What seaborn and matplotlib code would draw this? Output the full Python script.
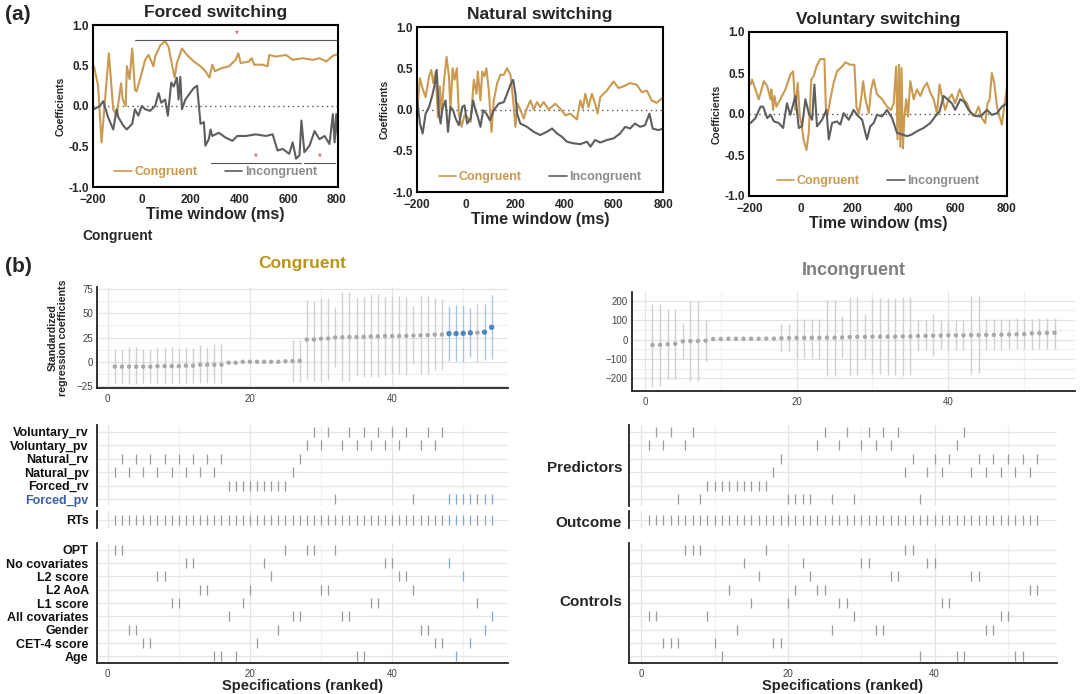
import matplotlib
matplotlib.use('Agg')
import matplotlib.pyplot as plt
from matplotlib.lines import Line2D
import numpy as np
import pandas as pd
import seaborn as sns

sns.set_theme(style='white')
plt.rcParams['font.family'] = ['Liberation Sans', 'DejaVu Sans']

ORANGE = '#C99A50'
DARK = '#5E5E5E'
GOLD = '#BA9512'
PT_GRAY = '#A8A8A8'
CI_GRAY = '#D0D0D0'
BLUE = '#4A86C0'
BLUE_CI = '#A9C6E0'
TICK_GRAY = '#9A9A9A'
TICK_BLUE = '#7FA9D2'

# ---------------- panel (a) data: time (ms) / coefficient ----------------
forced_cong_t = [-196, -179, -165, -150, -135, -117, -103, -85, -78, -66, -61, -50, -39, -28, -21, 0, 14, 28,
                 48, 55, 76, 96, 110, 124, 135, 144, 165, 186, 213, 241, 261, 278, 289, 300, 330, 358, 385,
                 396, 406, 440, 451, 461, 495, 516, 523, 550, 592, 619, 660, 702, 729, 757, 784, 805]
forced_cong_v = [0.49, 0.25, -0.45, 0.10, 0.65, -0.04, -0.12, 0.28, 0.08, 0.0, 0.49, 0.33, 0.71, 0.20, 0.18,
                 0.41, 0.57, 0.63, 0.49, 0.61, 0.75, 0.80, 0.73, 0.51, 0.35, 0.53, 0.71, 0.63, 0.55, 0.49,
                 0.43, 0.35, 0.51, 0.43, 0.47, 0.49, 0.57, 0.65, 0.53, 0.55, 0.59, 0.51, 0.51, 0.49, 0.63,
                 0.61, 0.63, 0.57, 0.59, 0.57, 0.59, 0.55, 0.62, 0.64]
forced_incong_t = [-196, -172, -158, -138, -117, -103, -96, -76, -62, -39, -28, -14, 0, 14, 34, 55, 69, 80, 96,
                   107, 121, 131, 144, 151, 158, 165, 179, 193, 213, 227, 241, 255, 261, 275, 282, 289, 316,
                   344, 372, 392, 427, 468, 509, 537, 557, 578, 605, 619, 633, 647, 655, 667, 688, 709, 729,
                   750, 770, 784, 791, 798, 805]
forced_incong_v = [-0.04, 0.0, 0.06, -0.14, -0.29, -0.04, -0.14, -0.24, -0.29, -0.22, -0.04, -0.12, 0.0, -0.04,
                   -0.06, 0.0, 0.16, 0.04, 0.08, -0.12, 0.29, 0.24, 0.35, 0.08, 0.36, -0.04, 0.08, 0.14, 0.22,
                   0.25, -0.22, -0.20, -0.49, -0.41, -0.29, -0.37, -0.33, -0.39, -0.43, -0.37, -0.37, -0.35,
                   -0.37, -0.35, -0.55, -0.53, -0.59, -0.45, -0.65, -0.61, -0.18, -0.57, -0.49, -0.31, -0.41,
                   -0.37, -0.47, -0.10, -0.45, -0.10, -0.41]

natural_cong_t = [-199, -188, -178, -165, -151, -142, -134, -124, -115, -107, -100, -91, -80, -70, -64, -55, -47,
                  -38, -30, -19, -7, 4, 18, 31, 42, 47, 58, 65, 74, 82, 92, 103, 112, 126, 139, 153, 166, 180,
                  191, 200, 209, 220, 234, 245, 261, 274, 288, 301, 315, 335, 362, 382, 403, 423, 450, 464,
                  474, 484, 497, 511, 524, 534, 545, 572, 599, 619, 639, 666, 693, 714, 734, 754, 774, 801]
natural_cong_v = [0.0, 0.38, 0.26, 0.15, 0.40, 0.48, 0.32, 0.46, -0.09, 0.28, -0.05, 0.32, 0.64, 0.40, 0.0, 0.50,
                  0.36, 0.50, -0.05, -0.21, -0.07, -0.09, -0.15, 0.36, 0.19, 0.46, 0.11, 0.46, 0.40, 0.50, 0.23,
                  -0.27, 0.11, 0.32, 0.42, 0.42, 0.50, 0.42, 0.11, -0.21, 0.07, 0.0, -0.11, 0.0, 0.11, 0.0,
                  0.09, 0.03, 0.09, 0.0, 0.07, 0.01, -0.07, -0.05, -0.12, 0.11, 0.01, 0.19, 0.03, 0.19, 0.07,
                  -0.05, 0.15, 0.23, 0.34, 0.26, 0.28, 0.32, 0.30, 0.21, 0.23, 0.11, 0.08, 0.15]
natural_incong_t = [-199, -188, -177, -165, -151, -138, -128, -120, -111, -104, -97, -84, -74, -64, -53, -43, -30,
                    -16, -7, 4, 18, 28, 38, 47, 58, 69, 82, 96, 112, 132, 153, 166, 180, 191, 200, 207, 220, 247,
                    274, 301, 328, 349, 369, 389, 409, 436, 464, 491, 505, 524, 545, 572, 599, 626, 646, 666,
                    686, 707, 727, 745, 758, 781, 801]
natural_incong_v = [0.11, -0.17, -0.29, -0.05, 0.03, 0.17, 0.30, 0.48, -0.05, -0.17, 0.01, 0.11, -0.27, 0.03,
                    -0.01, -0.11, -0.19, 0.03, 0.05, -0.17, -0.11, 0.11, -0.01, -0.09, -0.21, -0.01, -0.05,
                    -0.13, -0.01, 0.07, 0.09, 0.19, 0.30, 0.36, 0.19, -0.05, -0.17, -0.21, -0.27, -0.31, -0.27,
                    -0.23, -0.29, -0.33, -0.39, -0.41, -0.42, -0.39, -0.45, -0.37, -0.40, -0.37, -0.35, -0.29,
                    -0.21, -0.23, -0.17, -0.21, -0.19, -0.05, -0.23, -0.25, -0.23]

voluntary_cong_t = [-197, -191, -178, -165, -145, -132, -119, -116, -109, -104, -96, -81, -61, -42, -31, -22, -13,
                    -5, 1, 10, 21, 30, 40, 49, 60, 75, 91, 97, 104, 114, 127, 140, 160, 173, 192, 208, 216, 225,
                    234, 242, 251, 264, 273, 283, 296, 316, 335, 351, 361, 371, 376, 382, 387, 392, 397, 403,
                    410, 417, 426, 439, 452, 465, 478, 491, 504, 517, 530, 540, 549, 562, 575, 588, 601, 618,
                    634, 647, 662, 679, 692, 705, 718, 727, 735, 744, 753, 764, 774, 783, 792, 803]
voluntary_cong_v = [0.36, 0.42, 0.30, 0.18, 0.40, 0.34, 0.18, 0.30, 0.05, 0.22, 0.09, 0.18, 0.30, 0.48, 0.52,
                    0.05, 0.38, -0.03, -0.11, -0.31, -0.44, -0.23, 0.42, 0.46, 0.58, 0.67, 0.67, 0.05, 0.0,
                    0.18, 0.38, 0.52, 0.58, 0.63, 0.60, 0.60, 0.09, 0.0, 0.18, 0.40, 0.18, 0.01, 0.30, 0.42,
                    0.24, 0.18, 0.09, 0.05, 0.13, 0.58, -0.31, 0.60, -0.40, 0.56, -0.42, -0.03, 0.18, -0.03,
                    0.40, 0.18, 0.30, 0.22, 0.32, 0.38, 0.26, 0.18, 0.01, 0.36, 0.22, 0.05, 0.18, 0.24, 0.13,
                    0.30, 0.18, 0.13, 0.01, -0.01, 0.09, -0.05, -0.11, 0.13, 0.17, 0.50, 0.38, 0.09, -0.03,
                    -0.13, 0.09, 0.32]
voluntary_incong_t = [-197, -178, -158, -148, -132, -119, -106, -87, -70, -55, -42, -22, -9, 4, 17, 30, 43, 52,
                      62, 82, 99, 108, 121, 140, 153, 166, 186, 205, 218, 238, 257, 270, 283, 296, 316, 335, 355,
                      374, 394, 413, 432, 452, 478, 504, 523, 540, 556, 571, 588, 601, 621, 636, 653, 673, 699,
                      725, 744, 764, 783, 803]
voluntary_incong_v = [-0.11, -0.05, 0.09, 0.09, -0.05, -0.01, -0.09, -0.11, -0.17, 0.13, -0.01, 0.22, -0.17,
                      -0.15, 0.18, 0.01, -0.07, 0.36, -0.15, -0.07, 0.05, -0.31, -0.11, -0.09, -0.13, 0.01,
                      -0.07, 0.05, -0.01, -0.07, -0.31, -0.15, -0.11, -0.01, -0.03, 0.05, -0.05, -0.23, -0.25,
                      -0.27, -0.25, -0.21, -0.17, -0.11, -0.03, 0.03, 0.22, 0.18, 0.13, 0.05, 0.18, 0.15, 0.05,
                      -0.02, -0.03, 0.05, -0.01, 0.01, 0.09, 0.13]

# significance bars for forced switching: (start, end, y)
forced_sig_bars = [(-28, 805, 0.82), (282, 653, -0.70), (667, 791, -0.70)]

# ---------------- panel (b) data: specification curves ----------------
spec_rank = list(range(1, 55))
cong_est = [-5, -5, -5, -5, -5, -5, -4.5, -4.5, -4.5, -4.5, -4, -4, -3, -3, -3, -3,
            -1, -1, 0, 0, 0, 0, 0, 0, 0.5, 0.7, 1,
            22.8, 23, 23.8, 24, 25, 25.2, 25.5, 25.5, 25.7, 26, 26.2, 26.5, 26.5, 26.6, 26.7, 27, 27.2,
            27.5, 28, 28, 29, 29, 29.3, 29.8, 30, 30.5, 35.5]
cong_hi = [13, 13, 15, 15, 13, 13, 15, 15, 15, 14, 15, 14, 17, 15, 18, 18,
           0, 0, 1, 1, 1, 1, 1, 1, 1.5, 22, 22,
           64, 63, 66, 66, 56, 72, 72, 67, 67, 70, 70, 67, 68, 68, 67, 57, 68, 68, 66, 65,
           57, 58, 58, 55, 60, 60, 69]
cong_lo = [-22, -22, -23, -23, -22, -22, -22, -22, -22, -22, -22, -22, -22, -22, -22, -22,
           -2, -2, -1, -1, -1, -1, -1, -1, -0.5, -21, -21,
           -18, -20, -20, -19, -5, -20, -20, -15, -16, -16, -16, -14, -13, -13, -14, -1, -13, -13, -8, -8,
           1, 1, 0, 5, 0, 2, 3]
cong_sig = [48, 49, 50, 51, 53, 54]

incong_est = [-28, -27, -24, -22, -9, -8, -7, -6, 3, 3, 4, 4, 4, 4, 4, 5, 5,
              7, 8, 9, 9, 9, 9, 10, 10, 11, 13, 14, 14, 15, 15, 15, 15, 16, 16, 18, 19, 20, 21, 22, 22,
              22, 23, 23, 24, 24, 25, 26, 27, 28, 32, 33, 34, 35]
incong_hi = [185, 185, 160, 155, 85, 200, 200, 100, 8, 8, 9, 9, 9, 9, 9, 10, 10,
             80, 78, 108, 108, 108, 108, 205, 205, 120, 220, 220, 130, 212, 212, 215, 215, 220, 220,
             100, 100, 130, 103, 103, 103, 103, 225, 225, 105, 105, 105, 108, 110, 112, 108, 110, 110, 112]
incong_lo = [-243, -238, -205, -205, -100, -212, -212, -108, -2, -2, -1, -1, -1, -1, -1, 0, 0,
             -63, -63, -93, -93, -93, -100, -188, -188, -95, -185, -185, -100, -178, -178, -185, -185,
             -190, -185, -60, -55, -85, -50, -55, -55, -55, -175, -170, -55, -55, -55, -50, -50, -48,
             -55, -48, -50, -48]
incong_sig = []

predictor_names = ['Voluntary_rv', 'Voluntary_pv', 'Natural_rv', 'Natural_pv', 'Forced_rv', 'Forced_pv']
control_names = ['OPT', 'No covariates', 'L2 score', 'L2 AoA', 'L1 score', 'All covariates',
                 'Gender', 'CET-4 score', 'Age']

cong_predictors = {
    'Voluntary_rv': [29, 31, 34, 36, 38, 40, 42, 45, 47],
    'Voluntary_pv': [28, 30, 33, 35, 37, 39, 41, 44, 46],
    'Natural_rv': [2, 4, 6, 8, 10, 12, 14, 16, 27],
    'Natural_pv': [1, 3, 5, 7, 9, 11, 13, 15, 26],
    'Forced_rv': [17, 18, 19, 20, 21, 22, 23, 24, 25],
    'Forced_pv': [32, 43, 48, 49, 50, 51, 52, 53, 54],
}
cong_controls = {
    'OPT': [1, 2, 25, 28, 29, 32],
    'No covariates': [11, 12, 22, 39, 40, 48],
    'L2 score': [7, 8, 23, 41, 42, 50],
    'L2 AoA': [13, 14, 20, 30, 31, 43],
    'L1 score': [9, 10, 19, 37, 38, 52],
    'All covariates': [17, 26, 27, 33, 34, 54],
    'Gender': [3, 4, 24, 44, 45, 53],
    'CET-4 score': [5, 6, 21, 46, 47, 51],
    'Age': [15, 16, 18, 35, 36, 49],
}
incong_predictors = {
    'Voluntary_rv': [2, 4, 7, 25, 28, 31, 33, 35, 44],
    'Voluntary_pv': [1, 3, 6, 24, 27, 30, 32, 34, 43],
    'Natural_rv': [19, 37, 40, 42, 46, 48, 50, 52, 54],
    'Natural_pv': [18, 36, 39, 41, 45, 47, 49, 51, 53],
    'Forced_rv': [9, 10, 11, 12, 13, 14, 15, 16, 17],
    'Forced_pv': [5, 8, 20, 21, 22, 23, 26, 29, 38],
}
incong_controls = {
    'OPT': [6, 7, 8, 17, 36, 37],
    'No covariates': [14, 22, 30, 31, 39, 40],
    'L2 score': [16, 23, 34, 35, 45, 46],
    'L2 AoA': [12, 21, 24, 25, 53, 54],
    'L1 score': [15, 20, 27, 28, 41, 42],
    'All covariates': [1, 2, 9, 29, 49, 50],
    'Gender': [13, 26, 32, 33, 47, 48],
    'CET-4 score': [3, 4, 5, 10, 18, 19],
    'Age': [11, 38, 43, 44, 51, 52],
}

W, H = 1080, 694


def rect(l, t, r, b):
    return [l / W, 1 - b / H, (r - l) / W, (b - t) / H]


fig = plt.figure(figsize=(W / 100, H / 100), dpi=100)


def draw_switch(box, title, ct, cv, it, iv, xlim):
    ax = fig.add_axes(rect(*box))
    sns.lineplot(x=ct, y=cv, ax=ax, color=ORANGE, lw=1.5, estimator=None, sort=False)
    sns.lineplot(x=it, y=iv, ax=ax, color=DARK, lw=1.5, estimator=None, sort=False)
    ax.axhline(0, color='#555555', lw=1, ls=(0, (1, 2.5)), zorder=0)
    ax.set_xlim(xlim)
    ax.set_ylim(-1, 1)
    ax.set_xticks([-200, 0, 200, 400, 600, 800])
    ax.set_yticks([-1, -0.5, 0, 0.5, 1])
    ax.set_yticklabels(['-1.0', '-0.5', '0.0', '0.5', '1.0'])
    for s in ax.spines.values():
        s.set_visible(True)
        s.set_color('black')
        s.set_linewidth(1.5)
    ax.tick_params(axis='x', direction='in', length=3, width=1, pad=5, labelsize=8.5)
    ax.tick_params(axis='y', direction='in', length=0, pad=3, labelsize=8.5)
    for lab in ax.get_xticklabels() + ax.get_yticklabels():
        lab.set_fontweight('bold')
    ax.set_title(title, fontsize=12.5, fontweight='bold', pad=6)
    ax.set_xlabel('Time window (ms)', fontsize=11.5, fontweight='bold', labelpad=1)
    ax.set_ylabel('Coefficients', fontsize=7.5, fontweight='bold', labelpad=2)
    leg = ax.legend(handles=[Line2D([], [], color=ORANGE, lw=1.2), Line2D([], [], color=DARK, lw=1.2)],
                    labels=['Congruent', 'Incongruent'], loc='center', bbox_to_anchor=(0.5, 0.09),
                    ncol=2, frameon=False, handlelength=1.4, handletextpad=0.2, columnspacing=2.2,
                    prop={'size': 9, 'weight': 'bold'})
    leg.get_texts()[0].set_color(ORANGE)
    leg.get_texts()[1].set_color('#8C8C8C')
    return ax


ax_f = draw_switch((93, 25, 338, 187), 'Forced switching', forced_cong_t, forced_cong_v,
                   forced_incong_t, forced_incong_v, (-200, 805))
for x0, x1, y in forced_sig_bars:
    ax_f.plot([x0, x1], [y, y], color='#555555', lw=0.8)
    ax_f.text((x0 + x1) / 2, y + 0.01, '*', color='#D03A3A', ha='center', va='bottom', fontsize=7)
draw_switch((417, 27, 663, 192), 'Natural switching', natural_cong_t, natural_cong_v,
            natural_incong_t, natural_incong_v, (-200, 800))
draw_switch((749, 32, 1007, 196), 'Voluntary switching', voluntary_cong_t, voluntary_cong_v,
            voluntary_incong_t, voluntary_incong_v, (-203, 803))

fig.text(5 / W, 1 - 15 / H, '(a)', fontsize=15, fontweight='bold', va='center')
fig.text(5 / W, 1 - 266 / H, '(b)', fontsize=15, fontweight='bold', va='center')
fig.text(82 / W, 1 - 236 / H, 'Congruent', fontsize=10, fontweight='bold', va='center')


def style_b(ax, xlim, bottom=False):
    ax.set_xlim(xlim)
    for k in ['top', 'right']:
        ax.spines[k].set_visible(False)
    ax.spines['left'].set_color('#222222')
    ax.spines['left'].set_linewidth(1.3)
    ax.spines['bottom'].set_visible(bottom)
    ax.spines['bottom'].set_color('#222222')
    ax.spines['bottom'].set_linewidth(1.3)
    ax.set_xticks([0, 20, 40])
    ax.set_xticks([10, 30, 50], minor=True)
    ax.grid(axis='x', which='major', color='#E3E3E3', lw=0.9)
    ax.grid(axis='x', which='minor', color='#F0F0F0', lw=0.8)
    ax.tick_params(axis='x', length=0, labelsize=7, labelcolor='#444444', pad=4)
    ax.tick_params(axis='y', length=0)
    ax.set_axisbelow(True)


def draw_curve(box, est, lo, hi, sig, xlim, ylim, yt, ymin):
    ax = fig.add_axes(rect(*box))
    style_b(ax, xlim, bottom=True)
    df = pd.DataFrame({'spec': spec_rank, 'est': est, 'lo': lo, 'hi': hi})
    df['sig'] = df['spec'].isin(sig)
    for flag, col in [(False, CI_GRAY), (True, BLUE_CI)]:
        d = df[df['sig'] == flag]
        ax.vlines(d['spec'], d['lo'], d['hi'], color=col, lw=1.0, zorder=2)
    sns.scatterplot(data=df[~df['sig']], x='spec', y='est', ax=ax, color=PT_GRAY, s=10,
                    edgecolor='none', zorder=3, legend=False)
    sns.scatterplot(data=df[df['sig']], x='spec', y='est', ax=ax, color=BLUE, s=15,
                    edgecolor='none', zorder=3, legend=False)
    ax.set_ylim(ylim)
    ax.set_yticks(yt)
    ax.set_yticks(ymin, minor=True)
    ax.grid(axis='y', which='major', color='#E3E3E3', lw=0.9)
    ax.grid(axis='y', which='minor', color='#F0F0F0', lw=0.8)
    ax.tick_params(axis='y', labelsize=7, labelcolor='#444444', pad=3)
    ax.set_xlabel('')
    ax.set_ylabel('')
    return ax


def draw_rows(box, rows, names, sig, xlim, show_labels, bottom=False, xlabel=None):
    ax = fig.add_axes(rect(*box))
    style_b(ax, xlim, bottom=bottom)
    recs = []
    for i, name in enumerate(names):
        for sp in rows[name]:
            recs.append({'spec': sp, 'row': i, 'sig': sp in sig})
    df = pd.DataFrame(recs)
    for flag, col in [(False, TICK_GRAY), (True, TICK_BLUE)]:
        d = df[df['sig'] == flag]
        if len(d):
            sns.scatterplot(data=d, x='spec', y='row', ax=ax, marker='|', s=45, linewidth=0.9,
                            color=col, legend=False, zorder=3)
    ax.set_ylim(len(names) - 0.5, -0.5)
    ax.set_yticks(range(len(names)))
    ax.grid(axis='y', which='major', color='#E6E6E6', lw=0.9)
    if show_labels:
        ax.set_yticklabels(names, fontsize=9, fontweight='bold', color='#111111')
    else:
        ax.set_yticklabels([])
    ax.tick_params(axis='y', pad=6)
    if not bottom:
        ax.set_xticklabels([])
    ax.set_xlabel(xlabel if xlabel else '', fontsize=10.5, fontweight='bold', labelpad=0)
    ax.set_ylabel('')
    return ax


LX = (-1.5, 56.3)
RX = (-1.7, 56.7)

ax_c = draw_curve((97, 287, 508, 388), cong_est, cong_lo, cong_hi, cong_sig, LX, (-27, 77),
                  [-25, 0, 25, 50, 75], [-12.5, 12.5, 37.5, 62.5])
ax_c.set_title('Congruent', fontsize=12.5, fontweight='bold', color=GOLD, pad=14)
ax_c.set_ylabel('Standardized\nregression coefficients', fontsize=7.7, fontweight='bold', labelpad=6,
                linespacing=1.0)
ax_i = draw_curve((632, 292, 1075, 391), incong_est, incong_lo, incong_hi, incong_sig, RX, (-265, 245),
                  [-200, -100, 0, 100, 200], [-150, -50, 50, 150])
ax_i.set_title('Incongruent', fontsize=13, fontweight='bold', color='#7F7F7F', pad=12)

# congruent indicator rows
ax_p = draw_rows((97, 425, 508, 506), cong_predictors, predictor_names, cong_sig, LX, True)
ax_p.get_yticklabels()[-1].set_color('#3A5FA8')
draw_rows((97, 511, 508, 528), {'RTs': spec_rank}, ['RTs'], cong_sig, LX, True)
draw_rows((97, 543, 508, 663), cong_controls, control_names, cong_sig, LX, True, bottom=True,
          xlabel='Specifications (ranked)')

# incongruent indicator rows
draw_rows((629, 425, 1057, 506), incong_predictors, predictor_names, incong_sig, RX, False)
draw_rows((629, 511, 1057, 528), {'RTs': spec_rank}, ['RTs'], incong_sig, RX, False)
draw_rows((629, 543, 1057, 663), incong_controls, control_names, incong_sig, RX, False, bottom=True,
          xlabel='Specifications (ranked)')

for label, y in [('Predictors', 468), ('Outcome', 523), ('Controls', 602)]:
    fig.text(622 / W, 1 - y / H, label, fontsize=11, fontweight='bold', ha='right', va='center')

fig.savefig('out.png', dpi=100)
